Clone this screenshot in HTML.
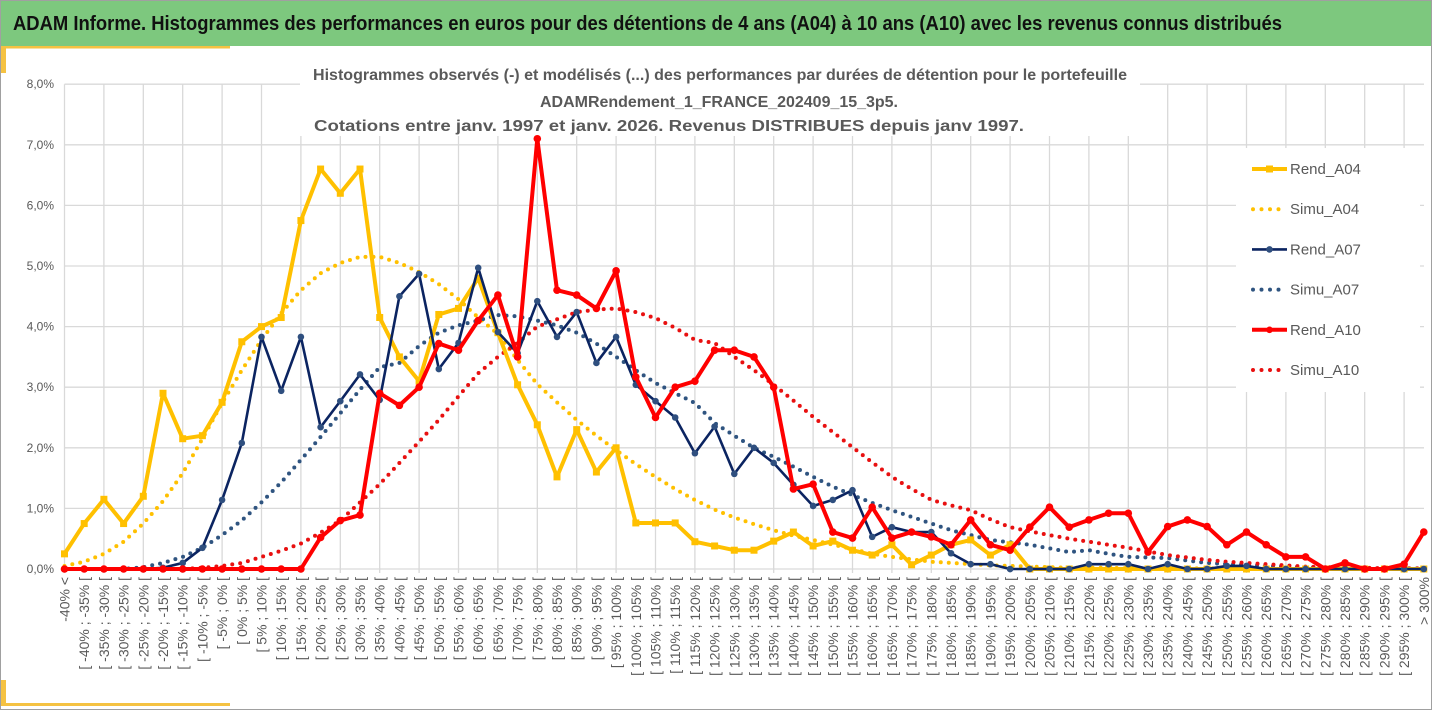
<!DOCTYPE html>
<html><head><meta charset="utf-8"><style>
html,body{margin:0;padding:0;background:#fff;}
svg{display:block;font-family:"Liberation Sans",sans-serif;}
</style></head><body>
<svg id="chart" width="1432" height="710" viewBox="0 0 1432 710">
<rect x="0" y="0" width="1432" height="710" fill="#fff"/>
<rect x="0.5" y="0.5" width="1431" height="709" fill="none" stroke="#a0a0a0"/>
<rect x="1" y="1" width="1430" height="45" fill="#7DC87E"/>
<text x="13" y="30" font-size="20" font-weight="bold" fill="#111" textLength="1269" lengthAdjust="spacingAndGlyphs">ADAM Informe. Histogrammes des performances en euros pour des détentions de 4 ans (A04) à 10 ans (A10) avec les revenus connus distribués</text>
<rect x="5" y="46" width="225" height="2.5" fill="#F5C242"/>
<rect x="1" y="46" width="5" height="27" fill="#F5C242"/>
<rect x="5" y="703" width="225" height="3" fill="#F5C242"/>
<rect x="1" y="680" width="5" height="26" fill="#F5C242"/>
<g id="grid"></g>
<g id="ylabels"></g>
<g id="xlabels"></g>
<rect x="300" y="60" width="840" height="76" fill="#fff"/>
<g font-weight="bold" font-size="16" fill="#595959" text-anchor="middle">
<text x="720" y="80" textLength="814" lengthAdjust="spacingAndGlyphs">Histogrammes observés (-) et modélisés (...) des performances par durées de détention pour le portefeuille</text>
<text x="719" y="107" textLength="358" lengthAdjust="spacingAndGlyphs">ADAMRendement_1_FRANCE_202409_15_3p5.</text>
<text x="669" y="131" textLength="710" lengthAdjust="spacingAndGlyphs">Cotations entre janv. 1997 et janv. 2026. Revenus DISTRIBUES depuis janv 1997.</text>
</g>
<g id="series"></g>
<rect x="1236" y="148" width="184" height="244" fill="#fff"/>
<g id="legend" font-size="15" fill="#595959"></g>
</svg>
<script>
const NS = "http://www.w3.org/2000/svg";
const yTicks = [0,1,2,3,4,5,6,7,8];
const yTickLabels = ["0,0%","1,0%","2,0%","3,0%","4,0%","5,0%","6,0%","7,0%","8,0%"];
const categories = ["-40% <"];
for (let a = -40; a < 300; a += 5) categories.push("[ " + a + "% ; " + (a + 5) + "% [");
categories.push("> 300%");
const rendA04 = [0.25,0.75,1.15,0.75,1.2,2.9,2.15,2.2,2.75,3.75,4.0,4.15,5.75,6.6,6.2,6.6,4.15,3.5,3.1,4.2,4.3,4.8,3.9,3.04,2.38,1.52,2.3,1.6,2.0,0.76,0.76,0.76,0.45,0.38,0.31,0.31,0.46,0.61,0.38,0.46,0.31,0.23,0.4,0.07,0.23,0.4,0.48,0.23,0.4,0,0,0,0,0,0,0,0,0,0,0,0,0,0,0,0,0,0,0,0,0];
const simuA04 = [0.05,0.12,0.25,0.45,0.75,1.12,1.58,2.15,2.74,3.28,3.78,4.22,4.6,4.88,5.05,5.15,5.15,5.05,4.9,4.7,4.45,4.15,3.88,3.45,3.05,2.75,2.46,2.2,1.96,1.73,1.52,1.32,1.14,0.98,0.85,0.74,0.64,0.55,0.48,0.4,0.33,0.25,0.2,0.16,0.12,0.1,0.08,0.06,0.05,0.04,0.03,0.02,0.02,0.02,0.01,0.01,0.01,0.01,0.01,0.01,0,0,0,0,0,0,0,0,0,0];
const rendA07 = [0,0,0,0,0,0.02,0.1,0.35,1.14,2.08,3.83,2.94,3.83,2.34,2.77,3.21,2.79,4.5,4.87,3.3,3.73,4.97,3.91,3.56,4.42,3.83,4.24,3.4,3.83,3.04,2.77,2.5,1.91,2.35,1.57,2.0,1.75,1.39,1.04,1.14,1.3,0.53,0.69,0.61,0.61,0.26,0.08,0.08,0,0,0,0,0.08,0.08,0.08,0,0.08,0,0,0.05,0.05,0,0,0,0,0,0,0,0,0];
const simuA07 = [0,0,0,0,0.03,0.1,0.2,0.35,0.56,0.8,1.1,1.43,1.8,2.18,2.57,2.96,3.33,3.4,3.68,3.9,4.02,4.1,4.19,4.17,4.1,4.02,3.9,3.72,3.5,3.28,3.07,2.9,2.74,2.41,2.2,2.0,1.85,1.69,1.52,1.36,1.22,1.09,0.97,0.86,0.75,0.64,0.56,0.48,0.44,0.4,0.34,0.28,0.31,0.25,0.2,0.19,0.18,0.14,0.1,0.08,0.07,0.05,0.04,0.03,0.02,0.02,0.01,0.01,0.01,0.01];
const rendA10 = [0,0,0,0,0,0,0,0,0,0,0,0,0,0.52,0.8,0.89,2.9,2.7,3.0,3.72,3.61,4.1,4.52,3.5,7.1,4.6,4.52,4.3,4.92,3.17,2.5,3.0,3.1,3.61,3.61,3.5,3.0,1.32,1.4,0.61,0.51,1.02,0.51,0.61,0.53,0.4,0.81,0.4,0.31,0.69,1.02,0.69,0.81,0.92,0.92,0.28,0.7,0.81,0.7,0.4,0.61,0.4,0.2,0.2,0,0.1,0,0,0.08,0.61];
const simuA10 = [0,0,0,0,0,0,0,0.02,0.05,0.1,0.2,0.3,0.42,0.6,0.8,1.1,1.4,1.75,2.1,2.46,2.85,3.23,3.5,3.73,4.0,4.12,4.24,4.28,4.3,4.24,4.14,3.98,3.78,3.73,3.5,3.28,3.04,2.78,2.51,2.26,2.01,1.76,1.52,1.32,1.14,1.05,0.97,0.82,0.69,0.62,0.56,0.5,0.45,0.4,0.35,0.29,0.23,0.19,0.15,0.12,0.1,0.08,0.06,0.04,0.03,0.02,0.02,0.01,0.01,0.01];

const X0 = 64.5, DX = 19.7, Y0 = 569, PY = 60.6;
const xs = i => X0 + i * DX;
const ys = v => Y0 - v * PY;
function mk(tag, attrs, parent) {
  const e = document.createElementNS(NS, tag);
  for (const k in attrs) e.setAttribute(k, attrs[k]);
  parent.appendChild(e);
  return e;
}
const grid = document.getElementById("grid");
yTicks.forEach((t, i) => {
  const l = mk("line", {x1: X0, x2: 1424, y1: ys(t), y2: ys(t), stroke: "#d9d9d9", "stroke-width": 1.3}, grid);
  
  
  const tx = mk("text", {x: 54, y: ys(t) + 4, "text-anchor": "end", "font-size": 12, fill: "#595959"}, document.getElementById("ylabels"));
  tx.textContent = yTickLabels[i];
  
  
});
categories.forEach((c, i) => {
  if (i % 2 === 0) {
    const l = mk("line", {x1: xs(i), x2: xs(i), y1: ys(8), y2: Y0 + 4, stroke: "#d9d9d9", "stroke-width": 1.3}, grid);
    
    
  }
  const t = mk("text", {x: 0, y: 0, "text-anchor": "end", "font-size": 14, fill: "#595959", transform: "translate(" + (xs(i) + 5) + ",577) rotate(-90)"}, document.getElementById("xlabels"));
  t.textContent = c;
  
  
});
const sg = document.getElementById("series");
function dotted(data, color, name) {
  const p = mk("polyline", {points: data.map((v, i) => xs(i) + "," + ys(v)).join(" "), fill: "none", stroke: color, "stroke-width": 4, "stroke-linecap": "round", "stroke-dasharray": "0 8"}, sg);
  
  
}
function solid(data, color, w, marker, mcolor, name) {
  const g = mk("g", {}, sg);
  
  
  mk("polyline", {points: data.map((v, i) => xs(i) + "," + ys(v)).join(" "), fill: "none", stroke: color, "stroke-width": w, "stroke-linejoin": "round"}, g);
  data.forEach((v, i) => {
    let m;
    if (marker === "sq") m = mk("rect", {x: xs(i) - 3.5, y: ys(v) - 3.5, width: 7, height: 7, fill: mcolor}, g);
    else m = mk("circle", {cx: xs(i), cy: ys(v), r: marker, fill: mcolor}, g);
    
    
  });
}
dotted(simuA04, "#FFC000", "simu-a04-line");
dotted(simuA07, "#2F5480", "simu-a07-line");
dotted(simuA10, "#E81010", "simu-a10-line");
solid(rendA04, "#FFC000", 4, "sq", "#FFC000", "rend-a04-line");
solid(rendA07, "#0B2461", 2.6, 3.3, "#2F4F7F", "rend-a07-line");
solid(rendA10, "#FF0000", 4, 3.8, "#FF0000", "rend-a10-line");

const lg = document.getElementById("legend");
const legendItems = [["Rend_A04", "#FFC000", "solid", 4], ["Simu_A04", "#FFC000", "dot", 4], ["Rend_A07", "#0B2461", "solid", 2.6], ["Simu_A07", "#2F5480", "dot", 4], ["Rend_A10", "#FF0000", "solid", 4], ["Simu_A10", "#E81010", "dot", 4]];
legendItems.forEach((it, k) => {
  const y = 169 + k * 40.2;
  const g = mk("g", {}, lg);
  
  
  if (it[2] === "solid") {
    mk("line", {x1: 1252, x2: 1287, y1: y, y2: y, stroke: it[1], "stroke-width": it[3]}, g);
    if (k === 0) mk("rect", {x: 1266, y: y - 3.5, width: 7, height: 7, fill: it[1]}, g);
    else mk("circle", {cx: 1269.5, cy: y, r: 3.3, fill: k === 2 ? "#2F4F7F" : it[1]}, g);
  } else {
    mk("line", {x1: 1253, x2: 1280, y1: y, y2: y, stroke: it[1], "stroke-width": 4, "stroke-linecap": "round", "stroke-dasharray": "0 8.5"}, g);
  }
  const t = mk("text", {x: 1290, y: y + 5}, g);
  t.textContent = it[0];
});
</script>
</body></html>
